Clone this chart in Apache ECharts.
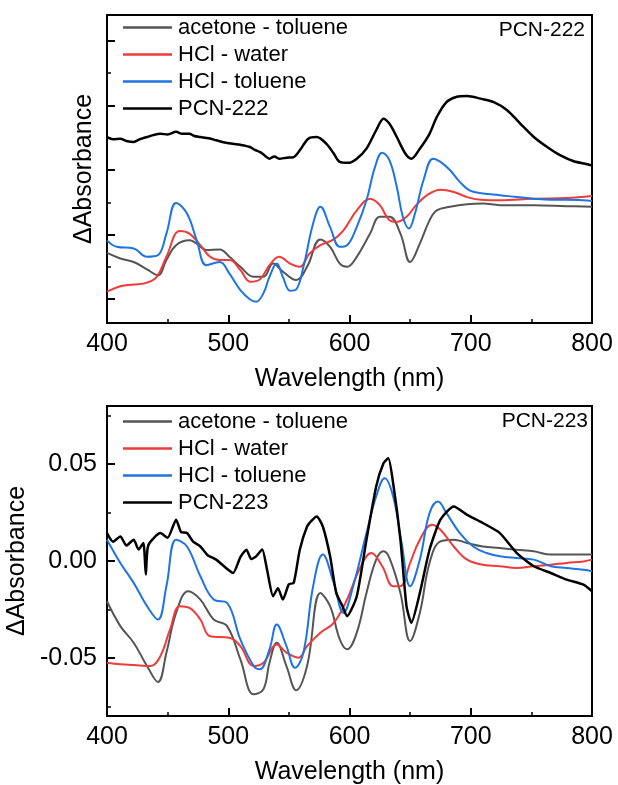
<!DOCTYPE html>
<html><head><meta charset="utf-8">
<script src="https://cdn.jsdelivr.net/npm/echarts@6/dist/echarts.min.js"></script>
<style>html,body{margin:0;padding:0;background:#fff}#c{width:618px;height:785px}</style>
</head><body><div id="c"></div>
<script>
// ---------- Top panel (PCN-222), arbitrary offset units ----------
const topAcetoneToluene = [[400,1.43],[411,1.26],[422,1.15],[433,0.92],[442,0.74],[449,1.21],[457,1.67],[468,1.82],[474,1.72],[482,1.52],[493,1.54],[501,1.31],[510,1.00],[521,0.69],[529,0.69],[537,1.10],[545,0.85],[556,0.59],[565,1.00],[576,1.85],[584,1.62],[592,1.10],[598,1.00],[606,1.31],[617,2.03],[625,2.55],[633,2.55],[642,2.03],[650,1.15],[658,1.72],[666,2.44],[672,2.75],[683,2.86],[697,2.94],[710,2.96],[724,2.91],[752,2.91],[779,2.88],[800,2.86]];
const topHClWater = [[400,0.23],[411,0.40],[422,0.45],[433,0.51],[441,0.69],[449,1.31],[460,2.11],[468,2.03],[477,1.67],[485,1.31],[493,1.21],[501,1.21],[510,0.90],[518,0.54],[526,0.61],[534,1.05],[542,1.31],[551,1.10],[559,1.00],[567,1.41],[576,1.67],[587,1.85],[595,2.13],[606,2.75],[617,3.11],[625,2.91],[633,2.44],[639,2.39],[647,2.55],[655,2.91],[664,3.22],[675,3.39],[686,3.32],[697,3.16],[708,3.08],[724,3.06],[752,3.11],[779,3.13],[800,3.19]];
const topHClToluene = [[400,1.82],[408,1.62],[422,1.57],[433,1.31],[442,1.36],[449,2.03],[457,2.98],[466,2.65],[474,1.82],[482,1.05],[493,1.15],[501,0.79],[510,0.28],[518,-0.01],[523,-0.08],[529,0.18],[534,0.69],[540,1.10],[545,0.69],[551,0.26],[556,0.30],[562,1.00],[570,2.34],[576,2.86],[584,2.23],[592,1.62],[598,1.67],[606,2.24],[614,3.06],[621,4.09],[627,4.53],[633,4.30],[639,3.47],[644,2.55],[649,2.19],[654,2.65],[661,3.68],[669,4.35],[675,4.25],[683,3.99],[691,3.63],[699,3.37],[710,3.27],[724,3.22],[738,3.16],[752,3.11],[766,3.08],[779,3.08],[793,3.06],[800,3.04]];
const topPCN222 = [[400,5.02],[405,4.95],[411,4.97],[416,4.90],[422,4.87],[427,4.95],[433,5.02],[438,5.08],[444,5.12],[450,5.10],[457,5.18],[462,5.12],[468,5.12],[472,5.05],[477,5.02],[484,4.98],[490,4.92],[497,4.85],[504,4.81],[510,4.78],[518,4.71],[522,4.62],[526,4.56],[530,4.45],[534,4.35],[538,4.42],[542,4.35],[548,4.38],[554,4.40],[559,4.61],[566,4.97],[573,5.02],[581,4.81],[587,4.51],[592,4.25],[599,4.22],[606,4.35],[614,4.66],[622,5.23],[628,5.59],[633,5.43],[639,5.02],[646,4.51],[651,4.35],[658,4.66],[666,5.12],[672,5.64],[680,6.10],[688,6.26],[697,6.29],[708,6.21],[719,6.10],[730,5.85],[741,5.43],[752,5.02],[763,4.71],[774,4.45],[785,4.27],[796,4.18],[800,4.14]];
const topMajorTicks = [0, 2, 4, 6, 8];
const topMinorTicks = [1, 3, 5, 7];

// ---------- Bottom panel (PCN-223), ΔAbsorbance ----------
const botAcetoneToluene = [[400,-0.0208],[411,-0.0336],[422,-0.0422],[433,-0.0542],[442,-0.0624],[449,-0.0473],[457,-0.0268],[467,-0.0156],[477,-0.0199],[488,-0.0302],[499,-0.0336],[510,-0.0508],[521,-0.0688],[529,-0.0662],[534,-0.0525],[540,-0.0422],[548,-0.0542],[556,-0.0667],[565,-0.0542],[576,-0.0165],[584,-0.0233],[592,-0.0405],[598,-0.0456],[606,-0.0370],[614,-0.0165],[622,0.0007],[628,0.0050],[633,0.0015],[642,-0.0165],[650,-0.0413],[658,-0.0268],[666,-0.0010],[675,0.0101],[686,0.0110],[697,0.0093],[710,0.0075],[724,0.0067],[738,0.0058],[752,0.0050],[766,0.0033],[779,0.0033],[800,0.0033]];
const botHClWater = [[400,-0.0525],[411,-0.0533],[422,-0.0537],[436,-0.0542],[444,-0.0491],[452,-0.0353],[460,-0.0233],[468,-0.0242],[477,-0.0302],[485,-0.0388],[501,-0.0396],[510,-0.0439],[521,-0.0542],[529,-0.0525],[540,-0.0431],[548,-0.0473],[558,-0.0499],[565,-0.0439],[576,-0.0370],[587,-0.0319],[598,-0.0199],[608,-0.0045],[618,0.0041],[627,-0.0027],[636,-0.0130],[642,-0.0130],[650,-0.0010],[658,0.0110],[668,0.0187],[675,0.0161],[686,0.0075],[697,0.0007],[710,-0.0019],[724,-0.0027],[738,-0.0036],[752,-0.0027],[766,-0.0019],[779,-0.0010],[793,-0.0002],[800,0.0007]];
const botHClToluene = [[400,0.0110],[411,-0.0010],[422,-0.0113],[433,-0.0233],[442,-0.0302],[449,-0.0130],[457,0.0110],[466,0.0075],[477,-0.0079],[488,-0.0199],[499,-0.0216],[510,-0.0405],[521,-0.0542],[526,-0.0559],[534,-0.0456],[540,-0.0328],[548,-0.0439],[555,-0.0551],[562,-0.0473],[570,-0.0130],[578,0.0033],[587,-0.0113],[595,-0.0268],[603,-0.0130],[614,0.0144],[622,0.0333],[629,0.0427],[636,0.0333],[643,0.0093],[650,-0.0130],[658,0.0007],[666,0.0247],[673,0.0307],[680,0.0247],[691,0.0144],[702,0.0075],[713,0.0041],[724,0.0024],[738,0.0015],[752,0.0007],[766,-0.0027],[779,-0.0036],[793,-0.0045],[800,-0.0053]];
const botPCN223 = [[400,0.0144],[405,0.0100],[411,0.0127],[416,0.0080],[422,0.0110],[426,0.0060],[430,0.0093],[432,-0.0070],[434,0.0080],[444,0.0144],[450,0.0120],[457,0.0213],[461,0.0150],[466,0.0144],[471,0.0100],[477,0.0075],[483,0.0030],[490,0.0007],[497,-0.0030],[504,-0.0062],[510,0.0020],[515,0.0058],[519,0.0010],[523,0.0024],[528,0.0060],[532,-0.0045],[537,-0.0182],[541,-0.0140],[545,-0.0199],[550,-0.0120],[554,-0.0113],[559,0.0058],[565,0.0178],[569,0.0210],[573,0.0230],[578,0.0178],[584,0.0024],[589,-0.0163],[594,-0.0230],[598,-0.0285],[606,-0.0182],[614,0.0110],[622,0.0384],[628,0.0504],[632,0.0530],[636,0.0401],[642,0.0110],[647,-0.0233],[651,-0.0319],[658,-0.0165],[666,0.0058],[675,0.0213],[686,0.0281],[697,0.0238],[710,0.0196],[724,0.0144],[738,0.0041],[752,-0.0027],[766,-0.0062],[779,-0.0096],[793,-0.0122],[800,-0.0156]];
const botMajorTicks = [-0.05, 0, 0.05];
const botMinorTicks = [-0.075, -0.025, 0.025, 0.075];

const names = ['acetone - toluene', 'HCl - water', 'HCl - toluene'];

const FONT = 'Liberation Sans, Arial, Helvetica, sans-serif';
const C = { gray: '#555555', red: '#ef3b3b', blue: '#1f74e3', black: '#000000' };
const TOP = { left: 107, top: 15, width: 485, height: 308 };
const BOT = { left: 107, top: 406, width: 485, height: 310 };

function grid(r, show) {
  return Object.assign({ show, borderColor: '#000', borderWidth: 2, backgroundColor: 'transparent', outerBoundsMode: 'none', containLabel: false }, r);
}
function xAxis(gridIndex) {
  return {
    type: 'value', gridIndex, min: 400, max: 800, interval: 100, position: 'bottom',
    axisLine: { show: true, onZero: false, lineStyle: { color: '#000', width: 2 } },
    axisTick: { show: true, inside: true, length: 8, lineStyle: { color: '#000', width: 2 } },
    minorTick: { show: true, splitNumber: 2, length: 4, lineStyle: { color: '#000', width: 1.5 } },
    splitLine: { show: false },
    axisLabel: { color: '#000', fontSize: 25, fontFamily: FONT, margin: 9 },
    name: 'Wavelength (nm)', nameLocation: 'middle', nameGap: 44,
    nameTextStyle: { color: '#000', fontSize: 25, fontFamily: FONT }
  };
}
function hiddenX(gridIndex) {
  return { type: 'value', gridIndex, min: 400, max: 800, show: false };
}
function minorY(gridIndex, min, max, ticks) {
  return { type: 'value', gridIndex, min, max, position: 'left',
    axisLine: { show: false, onZero: false },
    axisTick: { show: true, inside: true, length: 4, customValues: ticks, lineStyle: { color: '#000', width: 1.5 } },
    axisLabel: { show: false }, splitLine: { show: false } };
}
function line(name, data, color, xi, yi, width, smooth) {
  return { name, type: 'line', data, xAxisIndex: xi, yAxisIndex: yi, showSymbol: false, symbol: 'none',
    smooth: smooth, lineStyle: { color, width }, itemStyle: { color }, animation: false, z: 3 };
}
function legend(top, last) {
  return { left: 123, top, orient: 'vertical', icon: 'rect', itemWidth: 49, itemHeight: 2.5, itemGap: 0, padding: 0,
    data: [...names, last], selectedMode: false,
    textStyle: { fontSize: 22, fontFamily: FONT, color: '#000', lineHeight: 27, padding: [0, 0, 0, 1] } };
}

const chart = echarts.init(document.getElementById('c'), null, { renderer: 'canvas' });
chart.setOption({
  backgroundColor: '#fff',
  animation: false,
  grid: [grid(TOP, true), grid(BOT, true), grid(TOP, false), grid(BOT, false)],
  xAxis: [xAxis(0), xAxis(1), hiddenX(2), hiddenX(3)],
  yAxis: [
    { type: 'value', gridIndex: 0, min: -0.74, max: 8.8, position: 'left',
      axisLine: { show: true, onZero: false, lineStyle: { color: '#000', width: 2 } },
      axisTick: { show: true, inside: true, length: 8, customValues: topMajorTicks, lineStyle: { color: '#000', width: 2 } },
      axisLabel: { show: false }, splitLine: { show: false },
      name: 'ΔAbsorbance', nameLocation: 'middle', nameGap: 10,
      nameTextStyle: { color: '#000', fontSize: 25, fontFamily: FONT } },
    { type: 'value', gridIndex: 1, min: -0.08, max: 0.08, position: 'left',
      axisLine: { show: true, onZero: false, lineStyle: { color: '#000', width: 2 } },
      axisTick: { show: true, inside: true, length: 8, customValues: botMajorTicks, lineStyle: { color: '#000', width: 2 } },
      axisLabel: { show: true, customValues: botMajorTicks, formatter: v => v.toFixed(2), color: '#000', fontSize: 25, fontFamily: FONT, margin: 10 },
      splitLine: { show: false },
      name: 'ΔAbsorbance', nameLocation: 'middle', nameGap: 72,
      nameTextStyle: { color: '#000', fontSize: 25, fontFamily: FONT } },
    minorY(2, -0.74, 8.8, topMinorTicks),
    minorY(3, -0.08, 0.08, botMinorTicks)
  ],
  legend: [legend(14, 'PCN-222'), legend(408, 'PCN-223')],
  graphic: [
    { type: 'text', right: 33, top: 20, style: { text: 'PCN-222', font: '21px ' + FONT, fill: '#000' } },
    { type: 'text', right: 30, top: 411, style: { text: 'PCN-223', font: '21px ' + FONT, fill: '#000' } }
  ],
  series: [
    line(names[0], topAcetoneToluene, C.gray, 0, 0, 2, 0.4),
    line(names[1], topHClWater, C.red, 0, 0, 2, 0.4),
    line(names[2], topHClToluene, C.blue, 0, 0, 2, 0.4),
    line('PCN-222', topPCN222, C.black, 0, 0, 2.5, 0.3),
    line(names[0], botAcetoneToluene, C.gray, 1, 1, 2, 0.4),
    line(names[1], botHClWater, C.red, 1, 1, 2, 0.4),
    line(names[2], botHClToluene, C.blue, 1, 1, 2, 0.4),
    line('PCN-223', botPCN223, C.black, 1, 1, 2.5, 0.2)
  ]
});
</script></body></html>
